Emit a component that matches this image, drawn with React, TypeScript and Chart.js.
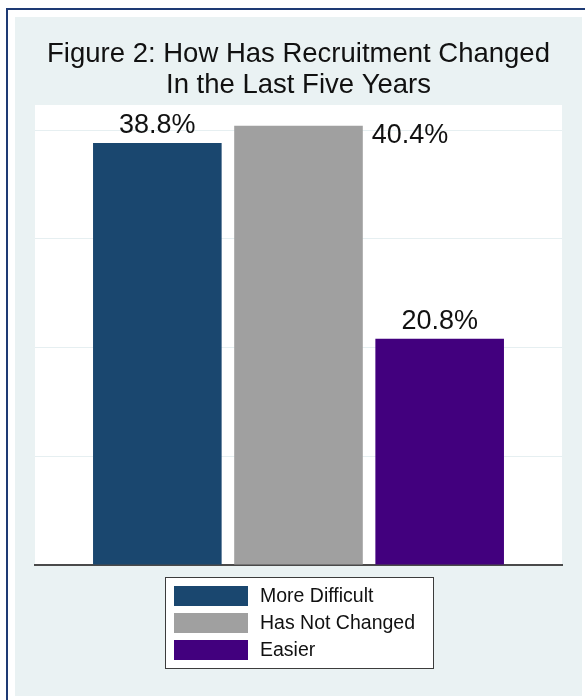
import React, { useEffect, useRef } from "react";
import { Chart, registerables } from "chart.js";

Chart.register(...registerables);

const categories = [""];
const seriesNames = ["More Difficult", "Has Not Changed", "Easier"];
const seriesValues = [38.8, 40.4, 20.8];
const seriesColors = ["#1A476F", "#A0A0A0", "#42007E"];
const gridTicks = [0, 10, 20, 30, 40];
const titleLines = ["Figure 2: How Has Recruitment Changed", "In the Last Five Years"];
const Y_MAX = 42.3;

const FONT = '"Liberation Sans", Arial, Helvetica, sans-serif';
const OUTER_BG = "#EAF2F3";
const W = 585;
const H = 700;

const backgroundPlugin = {
  id: "stataBackground",
  beforeDraw(chart: any) {
    const { ctx, chartArea } = chart;
    ctx.save();
    ctx.fillStyle = "#FFFFFF";
    ctx.fillRect(0, 0, W, H);
    ctx.strokeStyle = "#1E3A74";
    ctx.lineWidth = 2;
    ctx.strokeRect(7, 9, W + 40, H + 40);
    ctx.fillStyle = OUTER_BG;
    ctx.fillRect(15, 17, 567, 679);
    ctx.fillStyle = "#FFFFFF";
    ctx.fillRect(chartArea.left, chartArea.top, chartArea.right - chartArea.left, chartArea.bottom - chartArea.top);
    ctx.restore();
  },
};

const valueLabelPlugin = {
  id: "valueLabels",
  afterDatasetsDraw(chart: any) {
    const { ctx, chartArea } = chart;
    ctx.save();
    ctx.font = `27px ${FONT}`;
    ctx.fillStyle = "#111111";
    ctx.textBaseline = "alphabetic";
    chart.data.datasets.forEach((ds: any, i: number) => {
      const meta = chart.getDatasetMeta(i);
      meta.data.forEach((bar: any, j: number) => {
        const v = ds.data[j];
        const text = `${Number(v).toFixed(1)}%`;
        const capH = 19;
        const above = bar.y - 10;
        if (above - capH >= chartArea.top) {
          ctx.textAlign = "center";
          ctx.fillText(text, bar.x, above);
        } else {
          ctx.textAlign = "left";
          ctx.fillText(text, bar.x + bar.width / 2 + 9, bar.y + 17);
        }
      });
    });
    ctx.restore();
  },
};

const legendPlugin = {
  id: "boxLegend",
  afterDraw(chart: any) {
    const { ctx } = chart;
    const left = 165.5;
    const top = 577.5;
    const width = 268;
    const height = 91;
    ctx.save();
    ctx.fillStyle = "#FFFFFF";
    ctx.fillRect(left, top, width, height);
    ctx.strokeStyle = "#3C3C3C";
    ctx.lineWidth = 1;
    ctx.strokeRect(left, top, width, height);
    ctx.font = `19.5px ${FONT}`;
    ctx.textAlign = "left";
    ctx.textBaseline = "middle";
    chart.data.datasets.forEach((ds: any, i: number) => {
      const y = 586 + i * 27;
      ctx.fillStyle = ds.backgroundColor;
      ctx.fillRect(174, y, 74, 20);
      ctx.fillStyle = "#111111";
      ctx.fillText(ds.label, 260, y + 10.5);
    });
    ctx.restore();
  },
};

export default function App() {
  const canvasRef = useRef<HTMLCanvasElement | null>(null);

  useEffect(() => {
    const canvas = canvasRef.current;
    if (!canvas) return;
    const chart = new Chart(canvas, {
      type: "bar",
      data: {
        labels: categories,
        datasets: seriesNames.map((name, i) => ({
          label: name,
          data: [seriesValues[i]],
          backgroundColor: seriesColors[i],
          borderWidth: 0,
          categoryPercentage: 0.8036,
          barPercentage: 0.911,
        })),
      },
      options: {
        responsive: false,
        animation: false,
        devicePixelRatio: 1,
        layout: { padding: { left: 35, right: 23, top: 0, bottom: 135 } },
        plugins: {
          legend: { display: false },
          tooltip: { enabled: false },
          title: {
            display: true,
            text: titleLines,
            color: "#111111",
            font: { family: FONT, size: 27.5, weight: "normal", lineHeight: 31 / 27.5 },
            padding: { top: 39, bottom: 4 },
          },
        },
        scales: {
          x: {
            grid: { display: false, drawTicks: false, tickLength: 0 },
            ticks: { display: false },
            border: { display: true, color: "#4A4A4A", width: 2 },
          },
          y: {
            min: 0,
            max: Y_MAX,
            afterBuildTicks: (scale: any) => {
              scale.ticks = gridTicks.map((v) => ({ value: v }));
            },
            grid: {
              drawTicks: false,
              tickLength: 0,
              lineWidth: 1,
              color: (ctx: any) => (ctx.tick && ctx.tick.value === 0 ? "rgba(0,0,0,0)" : "#E6EFF1"),
            },
            ticks: { display: false },
            border: { display: false },
          },
        },
      },
      plugins: [backgroundPlugin, valueLabelPlugin, legendPlugin],
    } as any);
    return () => chart.destroy();
  }, []);

  return (
    <div style={{ position: "absolute", left: 0, top: 0, width: W, height: H }}>
      <canvas ref={canvasRef} width={W} height={H} style={{ width: W, height: H, display: "block" }} />
    </div>
  );
}
